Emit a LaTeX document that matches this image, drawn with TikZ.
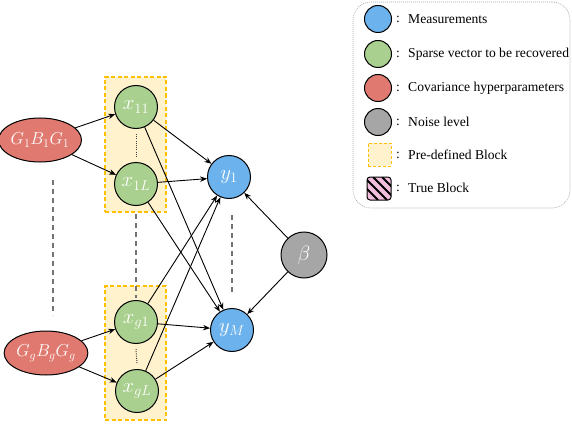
\documentclass[tikz,border=0pt]{standalone}
\usepackage{fontspec}
\setmainfont{Liberation Serif}
\usetikzlibrary{arrows.meta,shapes.geometric,calc}
\definecolor{cblue}{RGB}{108,178,236}
\definecolor{cgreen}{RGB}{169,208,142}
\definecolor{cred}{RGB}{224,122,112}
\definecolor{cgray}{RGB}{166,166,166}
\definecolor{cyellow}{RGB}{255,242,204}
\definecolor{corange}{RGB}{255,192,0}
\definecolor{cpink}{RGB}{240,190,220}
\begin{document}
\begin{tikzpicture}[x=1pt,y=-1pt,
  var/.style={circle, draw=black, line width=1pt, minimum size=43pt, inner sep=0pt, text=white, font=\huge},
  hyp/.style={ellipse, draw=black, line width=1pt, minimum width=71pt, minimum height=44pt, inner sep=0pt, fill=cred, text=white, font=\LARGE},
  arr/.style={-{Stealth[length=7pt,width=5.5pt]}, line width=0.9pt},
  gdash/.style={draw=black!55, line width=1.2pt, dash pattern=on 5pt off 4pt},
  blockbox/.style={fill=cyellow, draw=corange, line width=1.2pt, dash pattern=on 4pt off 2.5pt, inner sep=0pt},
  legc/.style={circle, draw=black, line width=1pt, minimum size=27pt, inner sep=0pt},
  legtext/.style={anchor=west, inner sep=0pt, font=\fontsize{13.6}{15}\selectfont},
  dotline/.style={black!75, line width=1pt, dash pattern=on 1pt off 1.2pt},
]
\useasboundingbox (0,0) rectangle (572,425);
% blocks
\node[blockbox, minimum width=61pt, minimum height=135pt] (b1) at (135.5,144.5) {};
\node[blockbox, minimum width=61pt, minimum height=134pt] (b2) at (135.5,353) {};
% gray dashed separators
\coordinate (l1) at (53,180); \coordinate (l2) at (53,315);
\coordinate (m1) at (136,214); \coordinate (m2) at (136,298);
\coordinate (r1) at (232,215); \coordinate (r2) at (232,293);
\draw[gdash] (l1) -- (l2);
\draw[gdash] (m1) -- (m2);
\draw[gdash] (r1) -- (r2);
% nodes
\node[hyp] (G1) at (40,140) {$G_1B_1G_1$};
\node[hyp] (Gg) at (46,353) {$G_gB_gG_g$};
\node[var, fill=cgreen] (x11) at (136,107) {$x_{11}$};
\node[var, fill=cgreen] (x1L) at (136,184) {$x_{1L}$};
\node[var, fill=cgreen] (xg1) at (136,322) {$x_{g1}$};
\node[var, fill=cgreen] (xgL) at (137,391) {$x_{gL}$};
\node[var, fill=cblue] (y1) at (229,177) {$y_1$};
\node[var, fill=cblue] (yM) at (232,330) {$y_M$};
\node[var, fill=cgray, minimum size=46pt] (beta) at (304,255) {$\beta$};
% dotted lines inside blocks
\draw[dotline] ($(x11.south)+(0,5)$) -- ($(x1L.north)+(0,-5)$);
\draw[dotline] ($(xg1.south)+(0,5)$) -- ($(xgL.north)+(0,-5)$);
% arrows
\draw[arr] (G1) -- (x11);
\draw[arr] (G1) -- (x1L);
\draw[arr] (Gg) -- (xg1);
\draw[arr] (Gg) -- (xgL);
\foreach \s in {x11,x1L,xg1,xgL}{
  \draw[arr] (\s) -- (y1);
  \draw[arr] (\s) -- (yM);
}
\draw[arr] (beta) -- (y1);
\draw[arr] (beta) -- (yM);
% legend
\node[draw=black!35, line width=0.6pt, dash pattern=on 1pt off 1pt, rounded corners=18pt,
      minimum width=217pt, minimum height=206pt, inner sep=0pt] (leg) at (461.5,105) {};
\node[legc, fill=cblue]  (lc1) at (378,19) {};
\node[legc, fill=cgreen] (lc2) at (378,54) {};
\node[legc, fill=cred]   (lc3) at (378,88) {};
\node[legc, fill=cgray]  (lc4) at (378,122) {};
\node[blockbox, line width=1pt, dash pattern=on 3pt off 2pt, minimum width=23pt, minimum height=23pt] (lc5) at (379.5,154.5) {};
\begin{scope}
  \clip[rounded corners=3pt] (367,177) rectangle (391,200);
  \fill[cpink] (367,177) rectangle (391,200);
  \foreach \o in {-12,-3,6,15}{
    \draw[line width=2pt] (367+\o,177) -- (390+\o,200);
  }
\end{scope}
\node[draw=black, line width=1pt, rounded corners=3pt, minimum width=24pt, minimum height=23pt, inner sep=0pt] (lc6) at (379,188.5) {};
\node[legtext] (ct1) at (396,19) {:};
\node[legtext] (t1) at (408,19) {Measurements};
\node[legtext] (ct2) at (396,54) {:};
\node[legtext] (t2) at (408,54) {Sparse vector to be recovered};
\node[legtext] (ct3) at (396,88) {:};
\node[legtext] (t3) at (408,88) {Covariance hyperparameters};
\node[legtext] (ct4) at (396,122) {:};
\node[legtext] (t4) at (408,122) {Noise level};
\node[legtext] (ct5) at (396,155) {:};
\node[legtext] (t5) at (408,155) {Pre-defined Block};
\node[legtext] (ct6) at (396,188) {:};
\node[legtext] (t6) at (408,188) {True Block};
\end{tikzpicture}
\end{document}
